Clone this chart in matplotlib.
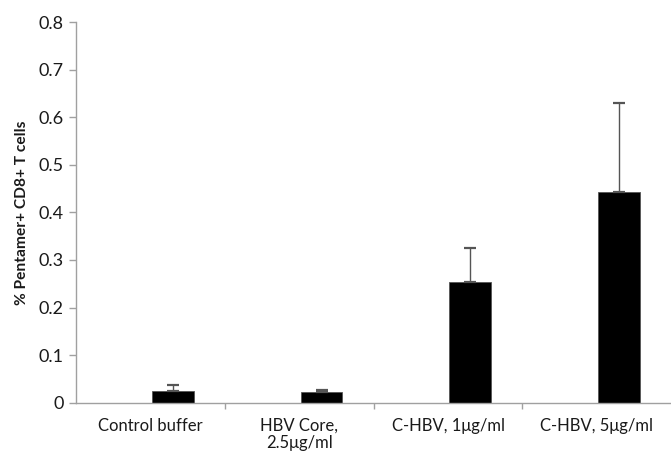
import numpy as np
import matplotlib
matplotlib.use("Agg")
import matplotlib.pyplot as plt

plt.rcParams["font.family"] = ["Lato", "DejaVu Sans"]

categories = ["Control buffer", "HBV Core,\n2.5μg/ml", "C-HBV, 1μg/ml", "C-HBV, 5μg/ml"]
means = [0.024, 0.022, 0.254, 0.442]
errors = [0.014, 0.005, 0.072, 0.188]
yticks = [0, 0.1, 0.2, 0.3, 0.4, 0.5, 0.6, 0.7, 0.8]
ytick_labels = ["0", "0.1", "0.2", "0.3", "0.4", "0.5", "0.6", "0.7", "0.8"]

axis_grey = "#a0a0a0"
text_col = "#1a1a1a"

fig = plt.figure(figsize=(6.71, 4.55), dpi=100)
ax = fig.add_axes([0.1133, 0.115, 0.887, 0.8365])

x = np.arange(len(categories))
# bars sit a bit right of the category label in the original
bar_x = x + 0.15
ax.bar(bar_x, means, width=0.28, color="black", edgecolor="#555555", linewidth=0.6, zorder=2)
ax.errorbar(bar_x, means, yerr=[np.zeros(len(errors)), errors], fmt="none",
            ecolor="#555555", elinewidth=1.0, capsize=4, capthick=1.6, zorder=3)

ax.set_xlim(-0.5, 3.5)
ax.set_ylim(0, 0.8)
ax.set_yticks(yticks)
ax.set_yticklabels(ytick_labels)
ax.set_xticks(x)
ax.set_xticklabels(categories, linespacing=1.1)
ax.set_xticks(x[:-1] + 0.5, minor=True)

for side in ["top", "right"]:
    ax.spines[side].set_visible(False)
for side in ["left", "bottom"]:
    ax.spines[side].set_color(axis_grey)
    ax.spines[side].set_linewidth(1.0)

ax.tick_params(axis="y", direction="out", length=5, width=1.0, color=axis_grey,
               labelsize=13, labelcolor=text_col, pad=4)
ax.tick_params(axis="x", which="major", length=0, labelsize=12, labelcolor=text_col, pad=11)
ax.tick_params(axis="x", which="minor", direction="out", length=4, width=1.0, color=axis_grey)

ax.set_ylabel("% Pentamer+ CD8+ T cells", fontsize=11.2, fontweight="bold", color=text_col, labelpad=7)

fig.savefig("out.png", dpi=100, facecolor="white")
